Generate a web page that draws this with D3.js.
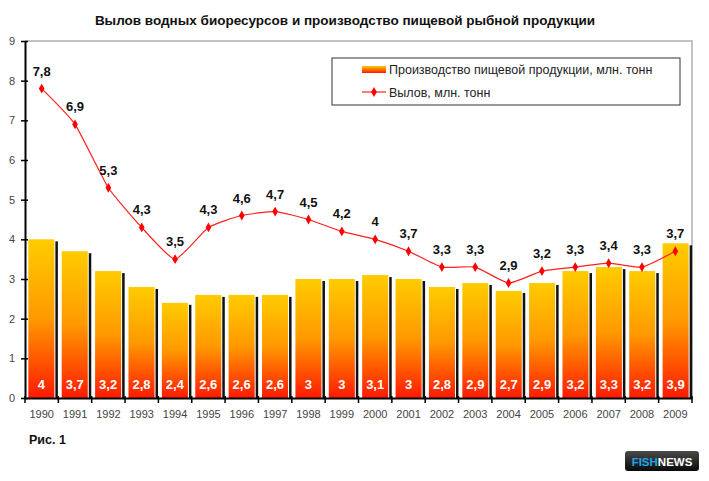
<!DOCTYPE html>
<html>
<head>
<meta charset="utf-8">
<script src="https://cdn.jsdelivr.net/npm/d3@7"></script>
<style>
  html, body { margin: 0; padding: 0; background: #fff; }
  svg { display: block; font-family: "Liberation Sans", Arial, sans-serif; }
</style>
</head>
<body>
<div id="vis"></div>
<script>
// Данные с рисунка
const years = ["1990","1991","1992","1993","1994","1995","1996","1997","1998","1999",
               "2000","2001","2002","2003","2004","2005","2006","2007","2008","2009"];
const production = [4, 3.7, 3.2, 2.8, 2.4, 2.6, 2.6, 2.6, 3, 3, 3.1, 3, 2.8, 2.9, 2.7, 2.9, 3.2, 3.3, 3.2, 3.9];
const catchVals = [7.8, 6.9, 5.3, 4.3, 3.5, 4.3, 4.6, 4.7, 4.5, 4.2, 4, 3.7, 3.3, 3.3, 2.9, 3.2, 3.3, 3.4, 3.3, 3.7];
const yTicks = [0, 1, 2, 3, 4, 5, 6, 7, 8, 9];
const titleText = "Вылов водных биоресурсов и производство пищевой рыбной продукции";
const legendBar = "Производство пищевой продукции, млн. тонн";
const legendLine = "Вылов, млн. тонн";

const W = 709, H = 481;
const plot = { left: 25, top: 41, right: 692, bottom: 398 };

const fmt = v => String(v).replace(".", ",");

const svg = d3.select("#vis").append("svg")
    .attr("width", W).attr("height", H);

// градиент столбцов
const defs = svg.append("defs");
const grad = defs.append("linearGradient")
    .attr("id", "barGrad")
    .attr("x1", 0).attr("y1", 0).attr("x2", 0).attr("y2", 1);
grad.append("stop").attr("offset", "0%").attr("stop-color", "#ffcc00");
grad.append("stop").attr("offset", "50%").attr("stop-color", "#ff9900");
grad.append("stop").attr("offset", "100%").attr("stop-color", "#ff1a00");

const logoGrad = defs.append("linearGradient")
    .attr("id", "logoGrad").attr("x1", 0).attr("y1", 0).attr("x2", 0).attr("y2", 1);
logoGrad.append("stop").attr("offset", "0%").attr("stop-color", "#4a4a4a");
logoGrad.append("stop").attr("offset", "100%").attr("stop-color", "#0a0a0a");

// Шкалы
const x = d3.scaleBand()
    .domain(years)
    .range([plot.left, plot.right])
    .paddingInner(0.22)
    .paddingOuter(0.1);

const xStep = d3.scaleBand().domain(years).range([plot.left, plot.right]);

const y = d3.scaleLinear()
    .domain([0, 9])
    .range([plot.bottom, plot.top]);

// рамка области построения (серая)
svg.append("path")
    .attr("d", `M${plot.left},${plot.top}H${plot.right}V${plot.bottom}`)
    .attr("fill", "none")
    .attr("stroke", "#b0b0b0")
    .attr("stroke-width", 1.5);

// Заголовок
svg.append("text")
    .attr("x", 345).attr("y", 25)
    .attr("text-anchor", "middle")
    .attr("font-size", 13.5).attr("font-weight", "bold")
    .attr("fill", "#111")
    .text(titleText);

// тени столбцов
svg.selectAll("rect.shadow")
    .data(production)
    .enter().append("rect")
    .attr("class", "shadow")
    .attr("x", (d, i) => x(years[i]) + x.bandwidth() + 1)
    .attr("y", d => y(d) + 2)
    .attr("width", 2.5)
    .attr("height", d => plot.bottom - y(d) - 2)
    .attr("fill", "#111");

// Столбцы
svg.selectAll("rect.bar")
    .data(production)
    .enter().append("rect")
    .attr("class", "bar")
    .attr("x", (d, i) => x(years[i]))
    .attr("y", d => y(d))
    .attr("width", x.bandwidth())
    .attr("height", d => plot.bottom - y(d))
    .attr("fill", "url(#barGrad)");

// подписи в столбцах
svg.selectAll("text.barlabel")
    .data(production)
    .enter().append("text")
    .attr("class", "barlabel")
    .attr("x", (d, i) => x(years[i]) + x.bandwidth() / 2)
    .attr("y", 389)
    .attr("text-anchor", "middle")
    .attr("font-size", 13).attr("font-weight", "bold")
    .attr("fill", "#fff")
    .text(d => fmt(d));

// Оси
const yAxis = svg.append("g")
    .attr("transform", `translate(${plot.left},0)`)
    .call(d3.axisLeft(y).tickValues(yTicks).tickSize(4).tickSizeOuter(0));
yAxis.select(".domain").attr("stroke", "#000").attr("stroke-width", 2);
yAxis.selectAll(".tick line").attr("stroke", "#000").attr("x2", 3).attr("x1", -4).attr("stroke-width", 1.5);
yAxis.selectAll(".tick text")
    .attr("x", -10)
    .attr("font-size", 11).attr("fill", "#444")
    .attr("font-family", "Liberation Sans, Arial, sans-serif");

const xAxis = svg.append("g")
    .attr("transform", `translate(0,${plot.bottom})`)
    .call(d3.axisBottom(xStep).tickSize(0).tickSizeOuter(0).tickPadding(12));
xAxis.select(".domain").attr("stroke", "#000").attr("stroke-width", 2);
xAxis.selectAll(".tick text")
    .attr("font-size", 11).attr("fill", "#444")
    .attr("font-family", "Liberation Sans, Arial, sans-serif");
// засечки между категориями
xAxis.selectAll("line.sep")
    .data(years.concat(["end"]))
    .enter().append("line")
    .attr("class", "sep")
    .attr("x1", (d, i) => plot.left + i * xStep.step())
    .attr("x2", (d, i) => plot.left + i * xStep.step())
    .attr("y1", -2).attr("y2", 5)
    .attr("stroke", "#000").attr("stroke-width", 1.5);

// Линия вылова
const line = d3.line()
    .x((d, i) => xStep(years[i]) + xStep.bandwidth() / 2)
    .y(d => y(d))
    .curve(d3.curveCardinal.tension(0.5));

svg.append("path")
    .datum(catchVals)
    .attr("d", line)
    .attr("fill", "none")
    .attr("stroke", "#ff2020")
    .attr("stroke-width", 1.2);

svg.selectAll("path.marker")
    .data(catchVals)
    .enter().append("path")
    .attr("class", "marker")
    .attr("transform", (d, i) => `translate(${xStep(years[i]) + xStep.bandwidth() / 2},${y(d)})`)
    .attr("d", d3.symbol().type(d3.symbolDiamond).size(28))
    .attr("fill", "#ff0000");

svg.selectAll("text.linelabel")
    .data(catchVals)
    .enter().append("text")
    .attr("class", "linelabel")
    .attr("x", (d, i) => xStep(years[i]) + xStep.bandwidth() / 2)
    .attr("y", d => y(d) - 13)
    .attr("text-anchor", "middle")
    .attr("font-size", 13).attr("font-weight", "bold")
    .attr("fill", "#111")
    .text(d => fmt(d));

// Легенда
const lg = svg.append("g");
lg.append("rect")
    .attr("x", 332).attr("y", 58).attr("width", 348).attr("height", 47)
    .attr("fill", "#fff").attr("stroke", "#333").attr("stroke-width", 1);
const sw = lg.append("linearGradient")
    .attr("id", "swGrad").attr("x1", 0).attr("y1", 0).attr("x2", 0).attr("y2", 1);
sw.append("stop").attr("offset", "0%").attr("stop-color", "#ffcc00");
sw.append("stop").attr("offset", "100%").attr("stop-color", "#ff1a00");
lg.append("rect")
    .attr("x", 362).attr("y", 66).attr("width", 24).attr("height", 7)
    .attr("fill", "url(#swGrad)");
lg.append("text")
    .attr("x", 389).attr("y", 74)
    .attr("font-size", 12.5).attr("fill", "#222")
    .text(legendBar);
lg.append("line")
    .attr("x1", 362).attr("x2", 386).attr("y1", 92).attr("y2", 92)
    .attr("stroke", "#ff2020").attr("stroke-width", 1.2);
lg.append("path")
    .attr("transform", "translate(374,92)")
    .attr("d", d3.symbol().type(d3.symbolDiamond).size(28))
    .attr("fill", "#ff0000");
lg.append("text")
    .attr("x", 389).attr("y", 97)
    .attr("font-size", 12.5).attr("fill", "#222")
    .text(legendLine);

// Подпись рисунка
svg.append("text")
    .attr("x", 29).attr("y", 444)
    .attr("font-size", 12.5).attr("font-weight", "bold")
    .attr("fill", "#111")
    .text("Рис. 1");

// логотип
const logo = svg.append("g").attr("transform", "translate(625,451)");
logo.append("rect")
    .attr("width", 74).attr("height", 20).attr("rx", 3)
    .attr("fill", "url(#logoGrad)");
const lt = logo.append("text")
    .attr("x", 37).attr("y", 14.5)
    .attr("text-anchor", "middle")
    .attr("font-size", 11.5).attr("font-weight", "bold");
lt.append("tspan").attr("fill", "#1ea7e8").text("FISH");
lt.append("tspan").attr("fill", "#fff").text("NEWS");
</script>
</body>
</html>
